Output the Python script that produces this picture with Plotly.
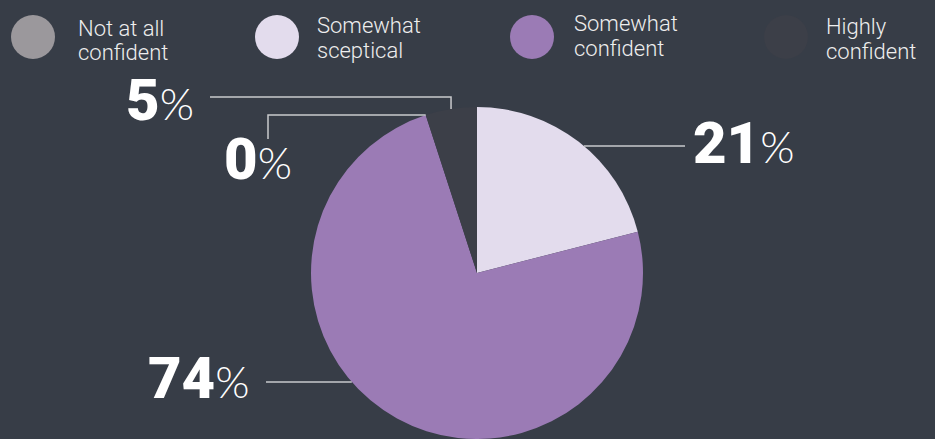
import math
import plotly.graph_objects as go

# ---- data ----
categories = ["Not at all confident", "Somewhat sceptical", "Somewhat confident", "Highly confident"]
legend_lines = [("Not at all", "confident"), ("Somewhat", "sceptical"),
                ("Somewhat", "confident"), ("Highly", "confident")]
shares = [0, 21, 74, 5]
colors = ["#9b989c", "#e3dced", "#9b7bb5", "#3c3f48"]
# clockwise order of slices starting from 12 o'clock
slice_order = [1, 2, 0, 3]

# ---- canvas / geometry (pixels) ----
W, H = 935, 439
BG = "#373d47"
LINE = "#c9cacd"
CX, CY, R = 477, 273, 166


def px(x):
    return x / W


def py(y):
    return 1 - y / H


pie_labels = [categories[i] for i in slice_order]
pie_values = [shares[i] for i in slice_order]
pie_colors = [colors[i] for i in slice_order]

fig = go.Figure(
    go.Pie(
        labels=pie_labels,
        values=pie_values,
        marker=dict(colors=pie_colors, line=dict(width=0)),
        sort=False,
        direction="clockwise",
        rotation=0,
        textinfo="none",
        hoverinfo="label+percent",
        showlegend=False,
        domain=dict(x=[px(CX - R), px(CX + R)], y=[py(CY + R), py(CY - R)]),
    )
)

# cumulative fractions of each slice, in drawing order
total = sum(pie_values)
start = {}
acc = 0.0
for lab, v in zip(pie_labels, pie_values):
    start[lab] = (acc / total, (acc + v) / total)
    acc += v


def on_circle(frac):
    a = 2 * math.pi * frac
    return CX + R * math.sin(a), CY - R * math.cos(a)


def edge_x(y, side):
    dx = math.sqrt(max(R * R - (y - CY) ** 2, 0))
    return CX + side * dx


shapes = []
annotations = []


def path(points):
    d = "M " + " L ".join(f"{px(x)},{py(y)}" for x, y in points)
    shapes.append(dict(type="path", path=d, xref="paper", yref="paper",
                       line=dict(color=LINE, width=1.5)))


# leader lines
hs, he = start["Highly confident"]
mx, my = on_circle((hs + he) / 2)
path([(210, 97), (mx, 97), (mx, my)])

ns, _ = start["Not at all confident"]
bx, by = on_circle(ns)
path([(268, 139), (268, by), (bx, by)])

path([(edge_x(146, 1), 146), (685, 146)])
path([(266, 382), (edge_x(382, -1), 382)])


def pct_label(value, x, baseline):
    annotations.append(dict(
        x=px(x), y=py(baseline - 23), xref="paper", yref="paper",
        xanchor="left", yanchor="middle", showarrow=False,
        text=(f"<span style='font-weight:900;font-size:58px'>{value}</span>"
              f"<span style='font-family:Lato;font-weight:300;font-size:44px'>%</span>"),
        font=dict(family="Roboto", color="#ffffff", size=58),
    ))


pct_label(shares[3], 124, 123)
pct_label(shares[0], 222, 182)
pct_label(shares[1], 691, 166)
pct_label(shares[2], 146, 401)

# legend: large dots with two-line captions
legend_dot_x = [33, 277, 532, 786]
legend_text_x = [76, 315, 572, 824]
legend_base_y = [35, 32, 30, 33]
for cx_, tx, by_, col, (l1, l2) in zip(legend_dot_x, legend_text_x, legend_base_y,
                                       colors, legend_lines):
    shapes.append(dict(type="circle", xref="paper", yref="paper",
                       xsizemode="pixel", ysizemode="pixel",
                       xanchor=px(cx_), yanchor=py(37),
                       x0=-22, x1=22, y0=-22, y1=22,
                       fillcolor=col, line=dict(width=0)))
    for k, line_text in enumerate((l1, l2)):
        annotations.append(dict(
            x=px(tx), y=py(by_ + 25 * k - 7), xref="paper", yref="paper",
            xanchor="left", yanchor="middle", align="left", showarrow=False,
            text=line_text,
            font=dict(family="Roboto", size=22, color="#eeeeee", weight=300),
        ))

fig.update_layout(
    width=W, height=H, autosize=False,
    margin=dict(l=0, r=0, t=0, b=0),
    paper_bgcolor=BG, plot_bgcolor=BG,
    shapes=shapes, annotations=annotations,
)

fig.write_html("out.html")
